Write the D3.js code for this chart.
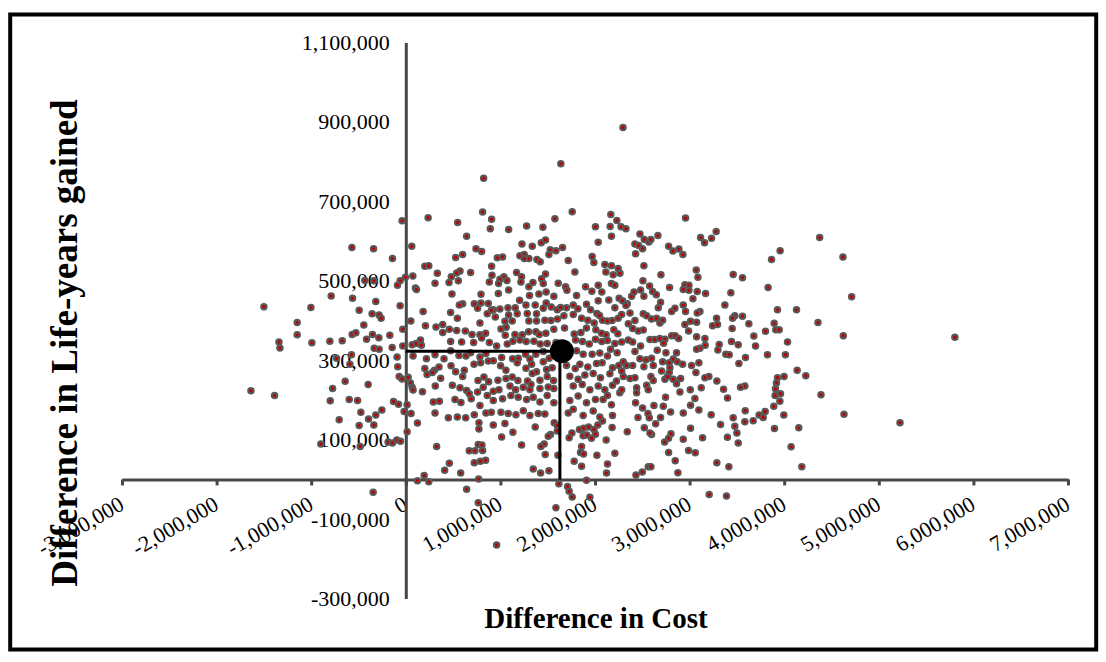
<!DOCTYPE html>
<html>
<head>
<meta charset="utf-8">
<title>Cost-effectiveness plane</title>
<style>
  body { margin: 0; background: #fff; }
  text { font-family: "Liberation Serif", "Times New Roman", serif; fill: #000; }
</style>
</head>
<body>
<svg id="chart" width="1106" height="662"></svg>
<script src="https://cdn.jsdelivr.net/npm/d3@7/dist/d3.min.js"></script>
<script>
// simulated pairs: [difference in cost, difference in life-years], both in thousands
var simPoints = [
  [-39,651],[236,659],[-570,584],[-341,581],[63,587],[-141,556],[201,537],[243,538],[74,512],[-4,509],[-60,500],[-88,489],[102,482],[-433,501],[-338,500],
  [1639,795],[823,758],[812,673],[907,655],[893,631],[1087,629],[1277,638],[1449,635],[1576,656],[1759,674],[2167,667],[2231,652],[2005,636],[2160,637],[2174,612],[2034,597],[548,647],[643,612],[742,581],[802,574],[527,559],[601,566],[967,558],[1023,560],[907,537],[1228,593],[1337,587],[1432,596],[1477,603],[1527,578],[1587,576],[1657,584],[1513,566],[1206,563],[1252,566],[1301,556],[1252,556],[1386,554],[1421,548],[1717,551],[1970,561],[1988,546],[2104,541],[2174,538],[2245,531],[2115,522],[2192,515],[1787,522],[1477,517],[1435,505],[1344,496],[1171,521],[1224,510],[1217,497],[1037,510],[995,504],[1069,501],[981,493],[911,514],[883,497],[685,521],[573,525],[538,520],[481,510],[333,519],[555,500],[457,496],[309,494],[1611,494],[1689,485],[1900,485],[2034,489],[2174,493],[2210,489],[1301,485],[1453,493],
  [2296,886],[2957,658],[2275,636],[2327,631],[2475,618],[2521,604],[2570,598],[2591,604],[2665,614],[2422,593],[2461,589],[2503,581],[2429,568],[2778,587],[2824,575],[2887,580],[2929,566],[3116,609],[3158,596],[3232,607],[3281,624],[3957,576],[3866,554],[2517,538],[3070,527],[3088,509],[2697,515],[3461,516],[3559,508],[2507,500],[2577,487],[2788,483],[2950,490],[2993,489],[3830,483],[2264,519],
  [4375,609],[4621,560],[4713,460],[4357,395],[4625,362],[5804,358],[4389,213],[4632,164],[5224,143],
  [-1500,435],[-1003,433],[-789,462],[-563,456],[-317,448],[-493,426],[-356,417],[-282,414],[-261,406],[-60,437],[113,478],[183,423],[-1148,395],[-1148,364],[-444,389],[53,399],[208,387],[-32,378],[-1341,346],[-1331,331],[-993,344],[-803,348],[-672,349],[-567,365],[-528,369],[-415,353],[-352,365],[-285,357],[-169,363],[-334,330],[-282,328],[-144,332],[-32,336],[67,339],[109,342],[155,351],[165,338],[77,311],[218,304],[-92,308],[-85,284],[-732,305],[-574,314],[-591,290],[201,279],[225,264],[-70,259],[-39,253],[25,257],[49,243],[67,232],[77,225],[176,221],[-641,247],[-398,239],[-774,229],[-1637,223],[-1387,211],[-799,198],[-598,201],[-510,199],[-130,196],[-77,189],[14,188],[-475,169],[-317,162],[-253,175],[-18,171],[56,166],[-704,150],[-394,152],
  [-493,136],[-338,137],[123,142],[14,120],[-898,89],[-482,83],[-187,94],[-141,92],[-95,99],[-56,96],[123,-3],[194,10],[243,-6],[-345,-32],
  [773,143],[773,127],[925,137],[1048,141],[1132,119],[1368,132],[1569,143],[1601,136],[1601,122],[1530,113],[1506,109],[1013,107],[326,83],[766,88],[805,87],[671,72],[731,72],[812,73],[1224,87],[1463,89],[1428,83],[1474,63],[1608,61],[724,42],[788,46],[844,48],[460,41],[411,23],[580,16],[1347,26],[1425,16],[1513,22],[770,1],[643,-25],[766,-59],[1618,-11],[1710,-18],[1727,-30],[1759,-44],[1587,-71],[960,-165],[1910,-2],[1946,-45],[1836,126],[1879,129],[1932,132],[1988,126],[2030,137],[2079,147],[2181,131],[1756,117],[1727,105],[1875,110],[1914,112],[1963,104],[2005,114],[2118,99],[1858,83],[1847,68],[1879,64],[2020,61],[2210,66],[1780,46],[1858,33],[2132,39],[2122,16],
  [2341,120],[2521,130],[2598,113],[2581,117],[2641,140],[3010,129],[3327,138],[3478,134],[3500,117],[3584,145],[3672,148],[3897,128],[4154,130],[2803,115],[2778,104],[2736,94],[2933,101],[3137,105],[3400,106],[3514,92],[4073,82],[2778,68],[2989,73],[3060,67],[2848,47],[3288,42],[3415,32],[4186,32],[2876,17],[2433,11],[2500,19],[2563,32],[2591,32],[3207,-38],[3390,-42],
  [488,467],[795,466],[978,468],[1087,477],[1308,463],[1407,467],[1484,472],[1565,461],[1703,476],[1805,463],[1967,474],[2072,472],
  [601,442],[566,439],[724,442],[795,444],[759,431],[872,443],[925,427],[995,429],[1080,432],[1157,432],[1087,414],[1203,451],[1270,439],[1284,418],[1368,439],[1382,417],[1453,431],[1484,444],[1537,434],[1601,427],[1636,433],[1699,432],[1770,439],[1819,430],[1910,441],[2034,450],[2146,452],[2255,456],[1953,427],[2020,418],[2210,432],[2245,406],[2132,399],[2048,413],
  [474,420],[545,406],[784,394],[861,417],[904,426],[946,409],[1048,398],[1125,399],[1178,417],[1301,399],[1382,399],[1470,401],[1534,400],[1604,404],[1671,412],[1770,415],[1858,406],[1924,401],[1991,394],[2079,401],[2181,400],
  [319,384],[390,390],[390,370],[460,378],[538,375],[629,374],[700,365],[784,364],[844,368],[1006,379],[1062,383],[1052,363],[1154,365],[1231,364],[1298,372],[1375,372],[1411,365],[1481,368],[1565,378],[1678,381],[1780,366],[1851,370],[1910,381],[2009,377],[2069,368],[2118,364],[2199,377],[2241,367],
  [474,347],[590,346],[717,345],[802,356],[883,345],[960,336],[1073,341],[1132,348],[1206,351],[1273,347],[1354,348],[1421,341],[1495,342],[1587,345],[1794,351],[1868,347],[1939,341],[2005,353],[2072,347],[2132,350],[2210,342],[2164,328],
  [309,314],[404,304],[474,324],[562,312],[636,311],[685,319],[784,308],[847,317],[925,299],[1013,307],[1129,304],[1189,305],[1266,315],[1312,303],[1375,315],[1453,322],[1516,305],[1805,324],[1875,315],[1970,315],[2051,318],[2132,311],[2234,319],
  [302,275],[351,283],[478,286],[527,271],[619,275],[721,290],[791,294],[872,298],[1002,286],[1059,275],[1178,294],[1270,280],[1330,290],[1382,271],[1453,296],[1488,277],[1548,281],[1699,287],[1791,279],[1840,290],[1924,283],[2016,292],[2076,294],[2185,281],[2252,287],
  [281,269],[369,255],[601,259],[763,249],[826,258],[876,246],[974,250],[1059,254],[1125,258],[1185,249],[1287,248],[1337,267],[1418,250],[1495,259],[1562,249],[1734,260],[1822,252],[1893,263],[1981,267],[2058,256],[2157,266],[2227,248],
  [312,235],[492,237],[573,231],[643,224],[671,216],[759,220],[819,232],[925,222],[985,226],[1101,235],[1161,226],[1242,232],[1312,226],[1323,239],[1418,229],[1506,233],[1565,229],[1770,235],[1865,239],[1946,226],[2034,235],[2104,226],[2185,237],[2262,218],[2132,211],
  [291,195],[355,197],[520,201],[583,194],[692,203],[784,186],[861,211],[925,199],[1023,203],[1111,211],[1189,207],[1277,201],[1347,207],[1418,195],[1495,211],[1565,193],[1734,199],[1822,210],[1910,193],[2005,201],[2086,201],[2174,188],
  [309,167],[450,155],[545,157],[633,155],[724,163],[847,167],[904,169],[1006,169],[1083,166],[1164,163],[1242,173],[1312,161],[1400,166],[1470,165],[1717,167],[1770,177],[1875,161],[1981,172],[2051,157],[2185,161],
  [2292,450],[2341,442],[2387,461],[2412,472],[2482,477],[2517,461],[2609,473],[2648,465],[2693,446],[2669,432],[2933,478],[2993,476],[3081,473],[3169,468],[3436,470],
  [2933,439],[3035,455],[2957,423],[2810,423],[2845,431],[3109,423],[3081,419],[3373,439],[3285,406],[3243,387],[3295,390],[3478,412],[3454,406],[3559,411],[3626,392],[3450,380],[3929,427],[4130,427],[3894,393],[3911,377],[3947,377],[3802,373],[3679,361],[4035,346],[3697,336],[3823,314],[4013,314],[3443,347],[3514,339],[3313,340],[3299,326],[3383,315],[3419,314],[3591,307],[3521,292],[4137,275],[4228,261],[3999,259],[3929,256],[3918,243],[3908,228],[3961,216],[3954,197],[3904,211],[3890,184],[3799,171],[3735,162],[3588,173],[3778,156],[3996,162],[3584,235],[3538,232],[3359,227],[3288,248],[3204,259],[3401,205],[3123,231],[3007,226],[3056,204],[3098,175],[3010,187],[2933,167],[2799,170],[2746,207],[2722,184],[2623,186],[2503,180],[2429,193],[2454,156],[2560,166],[2693,156],[2574,155],[3228,163],[3461,155],
  [2327,438],[2282,415],[2370,419],[2422,400],[2510,417],[2546,412],[2598,404],[2651,406],[2686,394],[2715,401],[2398,380],[2352,392],[2458,374],[2510,376],[2581,352],[2630,352],[2686,355],[2739,353],[2725,343],[2810,362],[2848,362],[2884,355],[2950,390],[3010,398],[3074,396],[2989,374],[3074,359],[3162,355],[3109,330],[3074,328],[3165,338],[2862,319],[2750,319],[2658,325],[2598,305],[2539,301],[2475,304],[2422,322],[2482,336],[2352,351],[2282,346],[2398,346],[2299,296],[2334,287],[2282,273],[2398,287],[2517,284],[2616,287],[2715,296],[2785,294],[2827,303],[2869,296],[2926,290],[3021,287],[3098,294],[3067,269],[2792,281],[2785,269],[2704,273],[2591,259],[2616,249],[2546,237],[2422,256],[2370,254],[2299,259],[2282,226],[2440,231],[2440,218],[2563,226],[2739,252],[2767,259],[2827,252],[2905,254],[2862,241],[2898,220],[3162,256]
];

// mean of the simulations, in thousands
var meanPoint = [1650, 323];

var xTicks = [-3000000, -2000000, -1000000, 0, 1000000, 2000000, 3000000, 4000000, 5000000, 6000000, 7000000];
var yTicks = [-300000, -100000, 100000, 300000, 500000, 700000, 900000, 1100000];
var xTitle = "Difference in Cost";
var yTitle = "Difference in Life-years gained";

var svg = d3.select('#chart');
var axisColor = '#474747';
var serif = '"Liberation Serif", "Times New Roman", serif';

var x = d3.scaleLinear().domain([-3000000, 7000000]).range([122, 1068]);
var y = d3.scaleLinear().domain([-300000, 1100000]).range([598.6, 42.5]);
var fmt = d3.formatLocale({decimal: '.', thousands: ',', grouping: [3], currency: ['$', ''], minus: '-'}).format(',');

// outer frame
svg.append('rect')
  .attr('x', 10.2).attr('y', 14.5)
  .attr('width', 1086).attr('height', 635)
  .attr('fill', 'none').attr('stroke', '#000').attr('stroke-width', 4);

// axis titles (drawn first so tick labels sit on top)
svg.append('text')
  .attr('x', 596).attr('y', 628)
  .attr('text-anchor', 'middle')
  .style('font-size', '29px').style('font-weight', 'bold')
  .text(xTitle);
svg.append('text')
  .attr('transform', 'translate(77,343) rotate(-90)')
  .attr('text-anchor', 'middle')
  .style('font-size', '37px').style('font-weight', 'bold')
  .text(yTitle);

// x axis, crossing at zero
var gx = svg.append('g')
  .attr('transform', 'translate(0,' + y(0) + ')')
  .call(d3.axisBottom(x).tickValues(xTicks).tickSize(6).tickSizeOuter(0).tickFormat(fmt));
gx.select('.domain').attr('stroke', axisColor).attr('stroke-width', 3);
gx.selectAll('.tick line').attr('stroke', axisColor).attr('stroke-width', 3);
gx.selectAll('.tick text')
  .attr('x', 0).attr('y', 0).attr('dy', 0)
  .attr('text-anchor', 'end')
  .attr('transform', 'translate(3,29) rotate(-30)')
  .style('font-size', '22px')
  .style('font-family', serif)
  .attr('fill', '#000');

// y axis, crossing at zero
var gy = svg.append('g')
  .attr('transform', 'translate(' + x(0) + ',0)')
  .call(d3.axisLeft(y).tickValues(yTicks).tickSize(0).tickSizeOuter(0).tickPadding(16).tickFormat(fmt));
gy.select('.domain').attr('stroke', axisColor).attr('stroke-width', 3);
gy.selectAll('.tick text')
  .style('font-size', '22px')
  .style('font-family', serif)
  .attr('fill', '#000');

// simulation points
svg.append('g').selectAll('circle')
  .data(simPoints)
  .enter().append('circle')
  .attr('cx', function(d) { return x(d[0] * 1000); })
  .attr('cy', function(d) { return y(d[1] * 1000); })
  .attr('r', 2.7)
  .attr('fill', '#c00000')
  .attr('stroke', '#595959')
  .attr('stroke-width', 2.1);

// mean point with guide lines
var mx = x(meanPoint[0] * 1000), my = y(meanPoint[1] * 1000);
svg.append('line')
  .attr('x1', x(0)).attr('y1', my).attr('x2', mx).attr('y2', my)
  .attr('stroke', '#000').attr('stroke-width', 3);
svg.append('line')
  .attr('x1', mx - 2).attr('y1', my).attr('x2', mx - 2).attr('y2', y(0))
  .attr('stroke', '#000').attr('stroke-width', 3);
svg.append('circle')
  .attr('cx', mx).attr('cy', my).attr('r', 12)
  .attr('fill', '#000');
</script>
</body>
</html>
